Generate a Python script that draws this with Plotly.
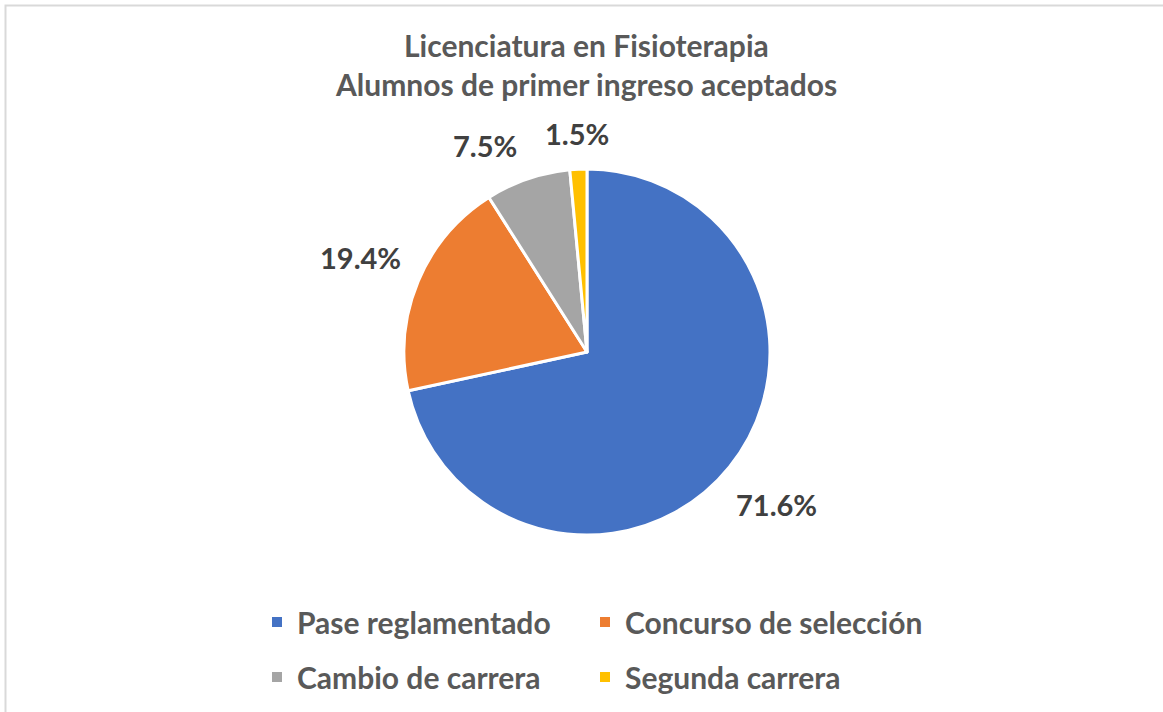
import math
import plotly.graph_objects as go

categories = ["Pase reglamentado", "Concurso de selección", "Cambio de carrera", "Segunda carrera"]
values = [71.6, 19.4, 7.5, 1.5]
colors = ["#4472C4", "#ED7D31", "#A5A5A5", "#FFC000"]
title_lines = ["Licenciatura en Fisioterapia", "Alumnos de primer ingreso aceptados"]

W, H = 1163, 712
FONT = "Lato"
FS_TITLE = 30
FS_LABEL = 29
FS_LEGEND = 30

# pie geometry (pixels)
CX, CY, R = 587, 352, 183

fig = go.Figure()
fig.add_trace(go.Pie(
    labels=categories, values=values, sort=False, direction="clockwise", rotation=0,
    marker=dict(colors=colors, line=dict(color="white", width=3)),
    textinfo="none",
    domain=dict(x=[(CX - R) / W, (CX + R) / W], y=[1 - (CY + R) / H, 1 - (CY - R) / H]),
    showlegend=False, hoverinfo="label+percent",
))

# ---- data labels: outside each slice along its mid-angle, with simple overlap avoidance
total = sum(values)
GAP = 20
PAD = 28
hh = FS_LABEL * 0.5
labels_txt = [f"{v:.1f}%" for v in values]
half_w = [len(t) * 0.55 * FS_LABEL / 2 for t in labels_txt]
angles = []
cum = 0.0
for v in values:
    angles.append(2 * math.pi * (cum + v / 2) / total)
    cum += v


def place(theta, hw):
    dx, dy = math.sin(theta), math.cos(theta)
    d = R + GAP + hw * abs(dx) + hh * abs(dy)
    return CX + d * dx, CY - d * dy


def overlap(a, b, hwa, hwb):
    return (abs(a[0] - b[0]) < hwa + hwb + PAD) and (abs(a[1] - b[1]) < 2 * hh)


for i in range(len(values) - 2, -1, -1):
    j = i + 1
    for _ in range(400):
        pi_, pj = place(angles[i], half_w[i]), place(angles[j], half_w[j])
        if not overlap(pi_, pj, half_w[i], half_w[j]):
            break
        angles[i] -= math.radians(0.5)

for t, th, hw in zip(labels_txt, angles, half_w):
    px, py = place(th, hw)
    fig.add_annotation(
        text=t, xref="paper", yref="paper", x=px / W, y=1 - py / H,
        xanchor="center", yanchor="middle", showarrow=False,
        font=dict(family=FONT, size=FS_LABEL, color="#404040", weight="bold"),
    )

# ---- legend entries: 2x2 grid, one legend per entry
legend_pos = [(257, 622), (585, 622), (257, 677), (585, 677)]
legend_names = ["legend", "legend2", "legend3", "legend4"]
for c, col, ln in zip(categories, colors, legend_names):
    fig.add_trace(go.Scatter(
        x=[None], y=[None], mode="markers", name=c,
        marker=dict(symbol="square", size=10, color=col), legend=ln,
    ))

legend_common = dict(
    orientation="h", xanchor="left", yanchor="middle",
    font=dict(family=FONT, size=FS_LEGEND, color="#595959", weight="bold"),
    bgcolor="rgba(0,0,0,0)", itemclick=False, itemdoubleclick=False,
)
layout_legends = {ln: dict(x=px / W, y=1 - py / H, **legend_common)
                  for ln, (px, py) in zip(legend_names, legend_pos)}

fig.update_layout(
    width=W, height=H,
    margin=dict(l=0, r=0, t=0, b=0),
    paper_bgcolor="white", plot_bgcolor="white",
    xaxis=dict(visible=False), yaxis=dict(visible=False),
    showlegend=True,
    **layout_legends,
)

for txt, yc in zip(title_lines, [45, 84]):
    fig.add_annotation(
        text=txt, xref="paper", yref="paper", x=586 / W, y=1 - yc / H,
        xanchor="center", yanchor="middle", showarrow=False,
        font=dict(family=FONT, size=FS_TITLE, color="#595959", weight="bold"),
    )

fig.add_shape(type="rect", xref="paper", yref="paper",
              x0=5.5 / W, x1=1.02, y0=-0.02, y1=1 - 5.5 / H,
              line=dict(color="#D9D9D9", width=2), fillcolor="rgba(0,0,0,0)")

fig.write_html("out.html", config={"displayModeBar": False},
               post_script="document.body.style.margin='0px';document.body.style.overflow='hidden';")
